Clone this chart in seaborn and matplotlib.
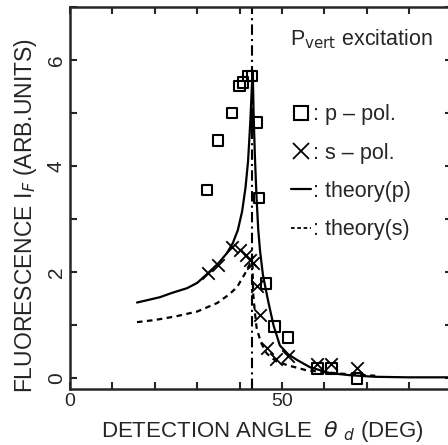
import numpy as np
import pandas as pd
import seaborn as sns
import matplotlib
matplotlib.use("Agg")
import matplotlib.pyplot as plt
from matplotlib.lines import Line2D
from matplotlib.ticker import MultipleLocator, FuncFormatter

# measured points, p-polarised detection (squares)
p_angle = [42.9, 42.0, 40.8, 39.9, 38.2, 44.1, 34.9, 32.3, 44.6, 46.2, 48.3, 51.4, 58.3, 61.6, 67.7]
p_value = [5.70, 5.70, 5.58, 5.51, 5.00, 4.83, 4.49, 3.55, 3.40, 1.79, 0.98, 0.77, 0.19, 0.19, 0.00]

# measured points, s-polarised detection (crosses)
s_angle = [32.5, 34.9, 38.2, 40.0, 41.5, 42.5, 43.1, 44.1, 44.8, 46.5, 48.6, 51.4, 58.3, 61.6, 67.7]
s_value = [1.98, 2.13, 2.47, 2.42, 2.32, 2.23, 2.17, 1.75, 1.19, 0.58, 0.36, 0.43, 0.28, 0.28, 0.19]

# theory curves
theory_p_angle = [15.8, 18.0, 21.2, 24.0, 27.6, 30.0, 32.5, 35.0, 37.0, 38.4, 39.6, 40.6, 41.4, 42.0,
                  42.5, 42.9, 43.1, 43.3, 43.6, 44.0, 44.4, 44.8, 45.5, 46.7, 48.0, 49.5, 51.5,
                  53.5, 56.6, 61.3, 66.0, 72.0, 80.0, 90.0]
theory_p_value = [1.43, 1.47, 1.53, 1.61, 1.70, 1.80, 1.98, 2.17, 2.36, 2.55, 2.80, 3.15, 3.60, 4.10,
                  4.80, 5.50, 5.80, 5.00, 4.20, 3.40, 2.80, 2.42, 1.95, 1.47, 1.00, 0.62, 0.45,
                  0.35, 0.21, 0.10, 0.06, 0.03, 0.02, 0.02]

theory_s_angle = [15.8, 20.0, 25.0, 30.0, 34.7, 37.5, 39.4, 41.3, 42.5, 43.0, 43.2, 43.6, 44.0,
                  45.0, 46.4, 48.5, 51.2, 55.9, 63.7, 72.0]
theory_s_value = [1.06, 1.10, 1.17, 1.26, 1.42, 1.58, 1.72, 1.98, 2.17, 2.30, 1.60, 1.25, 0.96,
                  0.68, 0.47, 0.33, 0.25, 0.15, 0.09, 0.05]

critical_angle = 43.0

p_df = pd.DataFrame({"angle": p_angle, "value": p_value})
s_df = pd.DataFrame({"angle": s_angle, "value": s_value})
tp_df = pd.DataFrame({"angle": theory_p_angle, "value": theory_p_value})
ts_df = pd.DataFrame({"angle": theory_s_angle, "value": theory_s_value})

sns.set_style("ticks")
plt.rcParams['font.family'] = ['Liberation Sans', 'DejaVu Sans']
plt.rcParams['mathtext.fontset'] = 'dejavusans'

fig = plt.figure(figsize=(4.48, 4.45), dpi=100)
ax = fig.add_axes([70 / 448, 56 / 445, 381.6 / 448, 382 / 445])

ax.axvline(critical_angle, color="black", lw=1.5, ls=(0, (5, 2, 1, 2)), zorder=1)

sns.lineplot(data=tp_df, x="angle", y="value", sort=False, estimator=None, ax=ax,
             color="black", lw=1.6)
sns.lineplot(data=ts_df, x="angle", y="value", sort=False, estimator=None, ax=ax,
             color="black", lw=1.6, ls=(0, (2.5, 2)))
ax.scatter(p_df["angle"], p_df["value"], marker="s", s=60, facecolors="none",
           edgecolors="black", linewidths=1.5, zorder=3)
sns.scatterplot(data=s_df, x="angle", y="value", ax=ax, marker="x", s=80,
                color="black", linewidth=1.3, zorder=3)

ax.set_xlim(0, 90)
ax.set_ylim(-0.2, 7.0)
ax.xaxis.set_major_locator(MultipleLocator(10))
ax.yaxis.set_major_locator(MultipleLocator(1))
ax.xaxis.set_major_formatter(FuncFormatter(lambda v, _: f"{v:.0f}" if round(v) in (0, 50) else ""))
ax.yaxis.set_major_formatter(FuncFormatter(lambda v, _: f"{v:.0f}" if round(v) in (0, 2, 4, 6) else ""))
ax.tick_params(direction="in", length=5, width=1.5, labelsize=14, top=True, right=True)
ax.tick_params(axis="x", pad=3)
ax.tick_params(axis="y", pad=3, labelsize=15)
for lab in ax.get_yticklabels():
    lab.set_rotation(90)
    lab.set_va("center")
for sp in ax.spines.values():
    sp.set_linewidth(1.8)
ax.set_xlabel("")
ax.set_ylabel("")

ax.text(0.577, 0.915, r"P$_{\rm vert}$ excitation", transform=ax.transAxes,
        fontsize=15.5, va="center", ha="left")

handles = [
    Line2D([], [], marker="s", ls="none", mfc="none", mec="black", mew=1.5, ms=10),
    Line2D([], [], marker="x", ls="none", color="black", mew=1.3, ms=11),
    Line2D([], [], color="black", lw=1.6),
    Line2D([], [], color="black", lw=1.3, ls=(0, (2, 1.5))),
]
labels = [": p \u2013 pol.", ": s \u2013 pol.", ": theory(p)", ": theory(s)"]
ax.legend(handles, labels, loc="upper left", bbox_to_anchor=(0.58, 0.745), frameon=False,
          fontsize=15.5, handlelength=0.9, handletextpad=0.1, labelspacing=0.8,
          borderaxespad=0, borderpad=0)

fig.text(262 / 448, 1 - 432 / 445, r"DETECTION ANGLE  $\theta$ $_d$ (DEG)",
         fontsize=16, ha="center", va="center")
fig.text(26 / 448, 1 - 215 / 445, r"FLUORESCENCE I$_F$ (ARB.UNITS)",
         fontsize=16.5, ha="center", va="center", rotation=90)

fig.savefig("out.png", dpi=100)
